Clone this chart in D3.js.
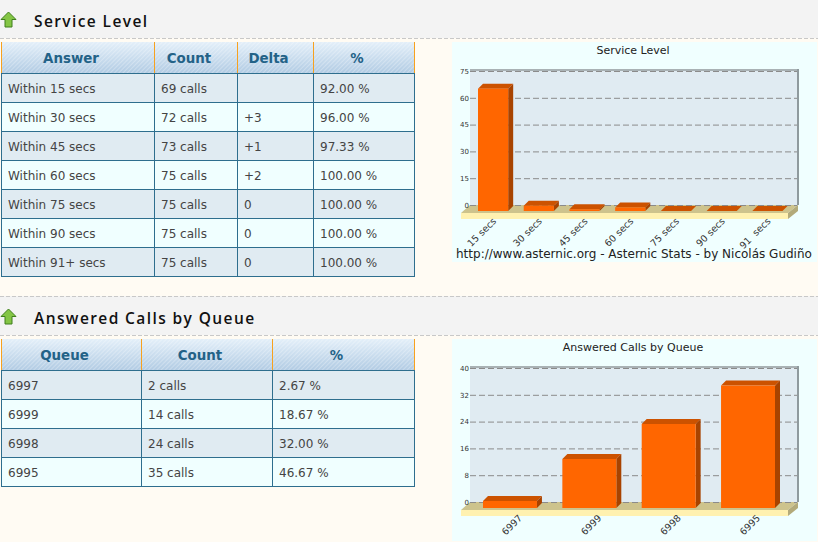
<!DOCTYPE html>
<html>
<head>
<meta charset="utf-8">
<script src="https://cdnjs.cloudflare.com/ajax/libs/d3/7.8.5/d3.min.js"></script>
<style>
    html, body { margin: 0; padding: 0; background: #fffbf3; overflow: hidden; }
    svg { display: block; font-family: "DejaVu Sans", sans-serif; }
    .heading { font-family: "Open Sans", sans-serif; font-weight: 600; font-size: 15.5px; letter-spacing: 1.4px; fill: #111; }
    .th { font-weight: bold; font-size: 13.4px; fill: #236287; text-anchor: middle; }
    .td { font-size: 12px; fill: #444; }
    .tick text { fill: #333; }
</style>
</head>
<body>
<script>
    // table 1
    var serviceHeader = ["Answer", "Count", "Delta", "%"];
    var serviceAnswers = ["Within 15 secs", "Within 30 secs", "Within 45 secs", "Within 60 secs", "Within 75 secs", "Within 90 secs", "Within 91+ secs"];
    var serviceCounts = ["69 calls", "72 calls", "73 calls", "75 calls", "75 calls", "75 calls", "75 calls"];
    var serviceDeltas = ["", "+3", "+1", "+2", "0", "0", "0"];
    var servicePercents = ["92.00 %", "96.00 %", "97.33 %", "100.00 %", "100.00 %", "100.00 %", "100.00 %"];

    // chart 1
    var serviceLabels = ["15 secs", "30 secs", "45 secs", "60 secs", "75 secs", "90 secs", "91\u00a0 secs"];
    var serviceValues = [69, 3, 1, 2, 0, 0, 0];
    var serviceTicks = [0, 15, 30, 45, 60, 75];

    // table 2
    var queueHeader = ["Queue", "Count", "%"];
    var queueNames = ["6997", "6999", "6998", "6995"];
    var queueCounts = ["2 calls", "14 calls", "24 calls", "35 calls"];
    var queuePercents = ["2.67 %", "18.67 %", "32.00 %", "46.67 %"];

    // chart 2
    var queueValues = [2, 14, 24, 35];
    var queueTicks = [0, 8, 16, 24, 32, 40];

    var w = 818;
    var h = 542;

    var svg = d3.select("body").append("svg").attr("width", w).attr("height", h);
    var defs = svg.append("defs");

    var grad = defs.append("linearGradient").attr("id", "headFill").attr("x1", 0).attr("y1", 0).attr("x2", 0).attr("y2", 1);
    grad.append("stop").attr("offset", "0%").attr("stop-color", "#e3eff9");
    grad.append("stop").attr("offset", "100%").attr("stop-color", "#b1cbe3");

    var stripes = defs.append("pattern").attr("id", "headStripes").attr("width", 3).attr("height", 3)
        .attr("patternUnits", "userSpaceOnUse").attr("patternTransform", "rotate(-45)");
    stripes.append("rect").attr("width", 3).attr("height", 1).attr("fill", "#ffffff").attr("opacity", 0.28);

    function drawHeading(text, y0, y1, hasTopLine) {
        svg.append("rect").attr("x", 0).attr("y", y0).attr("width", w).attr("height", y1 - y0).attr("fill", "#f3f3f3");
        svg.append("line").attr("x1", 0).attr("x2", w).attr("y1", y1 + 0.5).attr("y2", y1 + 0.5)
            .attr("stroke", "#c8c8c8").attr("stroke-dasharray", "4,2");
        if (hasTopLine) {
            svg.append("line").attr("x1", 0).attr("x2", w).attr("y1", y0 + 0.5).attr("y2", y0 + 0.5)
                .attr("stroke", "#c8c8c8").attr("stroke-dasharray", "4,2");
        }
        // green up arrow
        var cy = y1 - 18.5;
        svg.append("path")
            .attr("d", "M1,0 L8.5,-7.5 L16,0 L12,0 L12,7.5 L5,7.5 L5,0 Z")
            .attr("transform", "translate(0," + cy + ")")
            .attr("fill", "#84c545").attr("stroke", "#3f7f1c").attr("stroke-width", 1);
        svg.append("text").attr("class", "heading").attr("x", 34).attr("y", y1 - 11).text(text);
    }

    // columns: array of value arrays, colX: column edges
    function drawTable(header, columns, colX, headTop, headBottom, rowH) {
        var g = svg.append("g");
        var nRows = columns[0].length;
        var rowIdx = d3.range(nRows);
        var yRow = d3.scaleLinear().domain([0, 1]).range([headBottom, headBottom + rowH]);
        var bottom = yRow(nRows);

        g.selectAll(".row").data(rowIdx).enter().append("rect")
            .attr("x", colX[0]).attr("y", function(d) {return yRow(d)})
            .attr("width", colX[colX.length - 1] - colX[0]).attr("height", rowH)
            .attr("fill", function(d) {return d % 2 == 0 ? "#e0ebf2" : "#f0ffff"});

        // header
        [ "url(#headFill)", "url(#headStripes)" ].forEach(function(fill) {
            g.append("rect").attr("x", colX[0]).attr("y", headTop)
                .attr("width", colX[colX.length - 1] - colX[0]).attr("height", headBottom - headTop).attr("fill", fill);
        });
        g.selectAll(".hsep").data(colX).enter().append("line")
            .attr("x1", function(d) {return d}).attr("x2", function(d) {return d})
            .attr("y1", headTop).attr("y2", headBottom)
            .attr("stroke", "#f7a11e").attr("stroke-width", 1);
        g.selectAll(".th").data(header).enter().append("text")
            .attr("class", "th")
            .attr("x", function(d, i) {return (colX[i] + colX[i + 1]) / 2 - 7})
            .attr("y", (headTop + headBottom) / 2 + 5)
            .text(function(d) {return d});

        // grid
        g.selectAll(".hline").data(d3.range(nRows + 1)).enter().append("line")
            .attr("x1", colX[0] - 0.5).attr("x2", colX[colX.length - 1] + 0.5)
            .attr("y1", function(d) {return yRow(d)}).attr("y2", function(d) {return yRow(d)})
            .attr("stroke", "#2e6e8e");
        g.selectAll(".vline").data(colX).enter().append("line")
            .attr("x1", function(d) {return d}).attr("x2", function(d) {return d})
            .attr("y1", headBottom).attr("y2", bottom)
            .attr("stroke", "#2e6e8e");

        columns.forEach(function(col, c) {
            g.selectAll(".td" + c).data(col).enter().append("text")
                .attr("class", "td")
                .attr("x", colX[c] + 6.5)
                .attr("y", function(d, i) {return yRow(i) + rowH / 2 + 4.5})
                .text(function(d) {return d});
        });
    }

    function drawChart(o) {
        var g = svg.append("g");
        g.append("rect").attr("x", 452).attr("y", o.panelTop).attr("width", 365).attr("height", o.panelBottom - o.panelTop).attr("fill", "#f0ffff");

        g.append("text").attr("x", 633).attr("y", o.panelTop + 12).attr("text-anchor", "middle")
            .attr("font-size", 11).attr("fill", "#222").text(o.title);

        var left = 470, right = 797, depth = 5;
        var yWall = d3.scaleLinear().domain([0, o.ticks[o.ticks.length - 1]]).range([o.wallBottom, o.wallTop]);
        // bars stand on the front of the floor, with their own pixel scale
        var barBase = o.wallBottom + 6;
        var yBar = d3.scaleLinear().domain(yWall.domain()).range([barBase, barBase - o.barSpan]);
        var x = d3.scaleBand().domain(o.labels).range(o.barRange).paddingInner(o.inner).paddingOuter(0);

        // back wall
        g.append("rect").attr("x", left).attr("y", o.wallTop).attr("width", right - left).attr("height", o.wallBottom - o.wallTop).attr("fill", "#e0ebf2");
        g.append("rect").attr("x", left).attr("y", o.wallTop - 2).attr("width", right - left + 2).attr("height", 2).attr("fill", "#a9b2b5");
        g.append("rect").attr("x", right).attr("y", o.wallTop - 2).attr("width", 2).attr("height", o.wallBottom - o.wallTop + 2).attr("fill", "#8f9a9e");

        // floor
        var fTop = o.wallBottom + 8, fBot = fTop + 6;
        g.append("path").attr("d", d3.line()([[left, o.wallBottom], [right + 1, o.wallBottom], [788, fTop], [461, fTop]])).attr("fill", "#cdc38d");
        g.append("rect").attr("x", 461).attr("y", fTop).attr("width", 327).attr("height", 6).attr("fill", "#fff1b0");
        g.append("path").attr("d", d3.line()([[788, fTop], [798, o.wallBottom], [798, o.wallBottom + 6], [788, fBot]])).attr("fill", "#b3aa7a");

        // y axis and dashed grid
        var yAxis = d3.axisLeft(yWall).tickValues(o.ticks).tickSize(-(right - left)).tickPadding(1);
        var ya = g.append("g").attr("transform", "translate(" + left + ",0)").call(yAxis);
        ya.select(".domain").remove();
        ya.selectAll("line").attr("stroke", "#8b8b8b").attr("stroke-dasharray", "6,3");
        ya.selectAll("text").attr("font-size", 7).attr("font-family", "DejaVu Sans");

        // bars
        var bars = g.selectAll(".bar").data(o.values).enter().append("g");
        bars.append("path").attr("fill", "#cc5200").attr("d", function(d, i) {
            var x0 = x(o.labels[i]), x1 = x0 + x.bandwidth(), y = yBar(d);
            return d3.line()([[x0, y], [x0 + depth, y - depth], [x1 + depth, y - depth], [x1, y]]);
        });
        bars.append("path").attr("fill", "#a84300").attr("d", function(d, i) {
            var x1 = x(o.labels[i]) + x.bandwidth(), y = yBar(d);
            return d3.line()([[x1, y], [x1 + depth, y - depth], [x1 + depth, barBase - depth], [x1, barBase]]);
        });
        bars.append("rect").attr("fill", "#ff6600")
            .attr("x", function(d, i) {return x(o.labels[i])})
            .attr("y", function(d) {return yBar(d)})
            .attr("width", x.bandwidth())
            .attr("height", function(d) {return barBase - yBar(d)});

        // x labels, the queue chart has them further right of the bar centre
        var xa = g.append("g").attr("transform", "translate(" + o.labelDx + "," + (fBot - 1) + ")").call(d3.axisBottom(x).tickSize(0).tickPadding(0));
        xa.select(".domain").remove();
        xa.selectAll("text")
            .attr("font-size", 9.5).attr("font-family", "DejaVu Sans")
            .attr("text-anchor", "end")
            .attr("x", 0).attr("y", 2).attr("dy", "0.35em")
            .attr("transform", "rotate(-45)");

        if (o.footer) {
            g.append("text").attr("x", 456).attr("y", o.panelBottom - 4).attr("font-size", 12).attr("fill", "#222").text(o.footer);
        }
    }

    drawHeading("Service Level", 0, 38, false);
    drawHeading("Answered Calls by Queue", 296, 335, true);

    drawTable(serviceHeader, [serviceAnswers, serviceCounts, serviceDeltas, servicePercents],
        [1.5, 154.5, 237.5, 313.5, 414.5], 42, 73.5, 29);
    drawTable(queueHeader, [queueNames, queueCounts, queuePercents],
        [1.5, 141.5, 272.5, 414.5], 339, 370.5, 29);

    drawChart({
        title: "Service Level", labels: serviceLabels, values: serviceValues, ticks: serviceTicks,
        panelTop: 42, panelBottom: 262, wallTop: 71, wallBottom: 205, barSpan: 133,
        barRange: [478, 782.5], inner: 0.34, labelDx: 0,
        footer: "http://www.asternic.org - Asternic Stats - by Nicol\u00e1s Gudi\u00f1o"
    });
    drawChart({
        title: "Answered Calls by Queue", labels: queueNames, values: queueValues, ticks: queueTicks,
        panelTop: 339, panelBottom: 541, wallTop: 368, wallBottom: 502, barSpan: 140,
        barRange: [483, 775], inner: 0.32, labelDx: 9
    });
</script>
</body>
</html>
